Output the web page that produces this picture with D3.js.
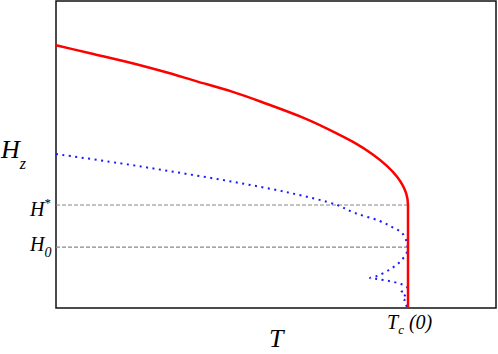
<!DOCTYPE html>
<html>
<head>
<meta charset="utf-8">
<script src="https://cdn.jsdelivr.net/npm/d3@7"></script>
<style>
  body { margin: 0; background: #fff; }
</style>
</head>
<body>
<script>
// Upper critical field (red) and the dotted curve, T in units of Tc(0), H in units of H*
var redT = [0, 0.1, 0.2, 0.3, 0.4, 0.5, 0.6, 0.7, 0.8, 0.85, 0.9, 0.94, 0.97, 0.985, 0.995, 1.0, 1.0];
var redH = [2.55, 2.47, 2.39, 2.30, 2.20, 2.10, 1.98, 1.85, 1.69, 1.60, 1.49, 1.38, 1.27, 1.19, 1.11, 1.0, 0];

var blueT = [0, 0.176, 0.338, 0.506, 0.665, 0.798, 0.849, 0.920, 0.955, 0.983, 0.997, 0.997, 0.977,
             0.946, 0.912, 0.892, 0.912, 0.946, 0.980, 0.997, 0.980, 0.997, 0.989, 1.0];
var blueH = [1.495, 1.408, 1.320, 1.223, 1.117, 1.0, 0.922, 0.845, 0.786, 0.728, 0.631, 0.544, 0.447,
             0.369, 0.311, 0.291, 0.282, 0.262, 0.233, 0.204, 0.146, 0.107, 0.068, 0];

var hStar = 1.0;
var hZero = 0.59;
var tc = 1.0;

var width = 498, height = 354;
var plotLeft = 56, plotRight = 496, plotTop = 1, plotBottom = 308;
var serif = "'Liberation Serif', 'Times New Roman', Times, serif";

var x = d3.scaleLinear().domain([0, 1.25]).range([plotLeft, plotRight]);
var y = d3.scaleLinear().domain([0, 2.98]).range([plotBottom, plotTop]);

var svg = d3.select("body").append("svg")
    .attr("width", width)
    .attr("height", height)
    .attr("font-family", serif)
    .attr("font-style", "italic");

// frame
svg.append("rect")
    .attr("x", plotLeft).attr("y", plotTop)
    .attr("width", plotRight - plotLeft).attr("height", plotBottom - plotTop)
    .attr("fill", "none")
    .attr("stroke", "#111")
    .attr("stroke-width", 1.5);

// dashed guide lines at H* and H0
[hStar, hZero].forEach(function(h) {
    svg.append("line")
        .attr("x1", x(0)).attr("x2", x(tc))
        .attr("y1", y(h)).attr("y2", y(h))
        .attr("stroke", "#888")
        .attr("stroke-width", 1.2)
        .attr("stroke-dasharray", "4,2");
});

var line = d3.line()
    .x(function(d) { return x(d[0]); })
    .y(function(d) { return y(d[1]); });

var blue = blueT.map(function(t, i) { return [t, blueH[i]]; });
svg.append("path")
    .attr("d", line.curve(d3.curveCatmullRom.alpha(0.5))(blue))
    .attr("fill", "none")
    .attr("stroke", "#1a1aff")
    .attr("stroke-width", 2)
    .attr("stroke-dasharray", "2,4.5");

var red = redT.map(function(t, i) { return [t, redH[i]]; });
svg.append("path")
    .attr("d", line.curve(d3.curveMonotoneY)(red))
    .attr("fill", "none")
    .attr("stroke", "#ff0000")
    .attr("stroke-width", 2.5);

// labels
var hz = svg.append("text").attr("x", 1).attr("y", 158).attr("font-size", 26);
hz.append("tspan").text("H");
hz.append("tspan").attr("font-size", 16).attr("dy", 11).text("z");

var hs = svg.append("text").attr("x", 30).attr("y", y(hStar) + 11).attr("font-size", 20);
hs.append("tspan").text("H");
hs.append("tspan").attr("font-size", 13).attr("dy", -9).attr("font-style", "normal").text("*");

var h0 = svg.append("text").attr("x", 30).attr("y", y(hZero) + 4).attr("font-size", 20);
h0.append("tspan").text("H");
h0.append("tspan").attr("font-size", 14).attr("dy", 6).text("0");

var tl = svg.append("text").attr("x", x(tc) - 21).attr("y", 329).attr("font-size", 20);
tl.append("tspan").text("T");
tl.append("tspan").attr("font-size", 13).attr("dy", 5).text("c");
tl.append("tspan").attr("dy", -5).text(" (0)");

svg.append("text")
    .attr("x", 269).attr("y", 347)
    .attr("font-size", 26)
    .text("T");
</script>
</body>
</html>
